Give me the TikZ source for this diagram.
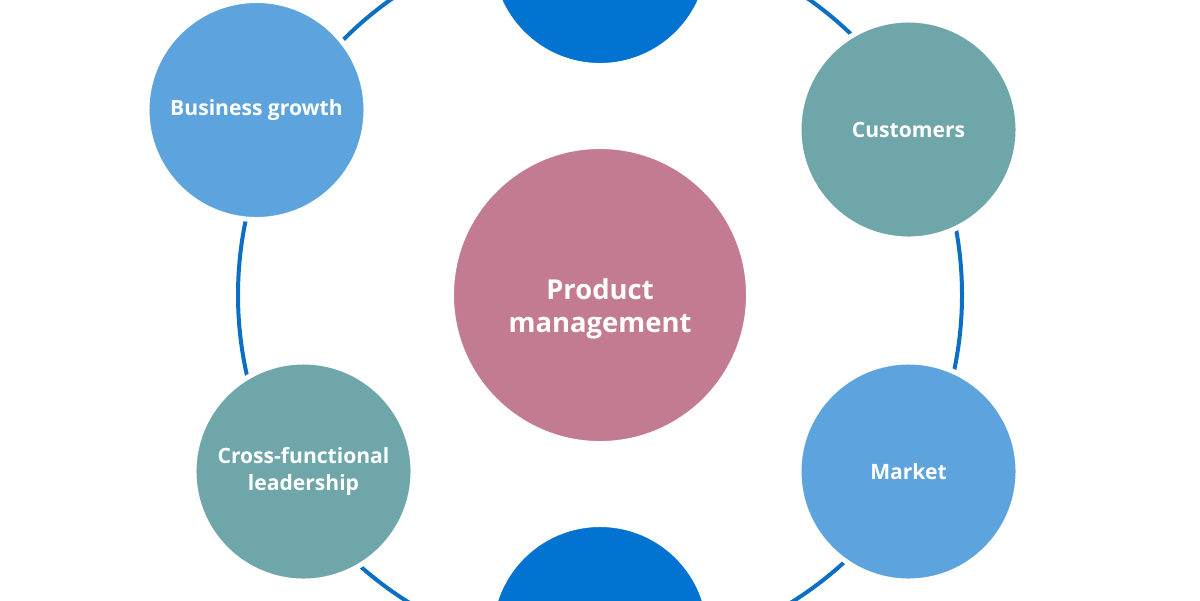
\documentclass[tikz,border=0pt]{standalone}
\usepackage{fontspec}
\setmainfont{Open Sans}
\definecolor{pmpink}{HTML}{C27B90}
\definecolor{lblue}{HTML}{5DA4DF}
\definecolor{tealc}{HTML}{6EA6A9}
\definecolor{dblue}{HTML}{0273D0}
\definecolor{ringblue}{HTML}{0C6FC6}
\begin{document}
\begin{tikzpicture}[x=0.025cm,y=-0.025cm,
  ringline/.style={draw=ringblue,line width=0.1cm},
  bub/.style={circle,draw=white,line width=0.125cm,inner sep=0pt,outer sep=0pt,
    minimum size=5.475cm,text=white,align=center,
    font=\fontsize{15}{19.2}\selectfont\bfseries},
  bigbub/.style={bub,minimum size=7.425cm},
  bigtext/.style={text=white,align=center,inner sep=0pt,
    font=\fontsize{19.5}{23.5}\selectfont\bfseries}]
\useasboundingbox (0,0) rectangle (1200,600);
\clip (0,0) rectangle (1200,600);
\fill[white] (0,0) rectangle (1200,600);
\draw[ringline] (600,295) circle[radius=362];
\node[bub,fill=dblue] (top) at (600,-44) {};
\node[bub,fill=dblue] (bottom) at (600,634) {};
\node[bub,fill=lblue] (growth) at (256.5,110) {Business growth};
\node[bub,fill=tealc] (customers) at (908.5,129.5) {Customers};
\node[bub,fill=tealc] (cross) at (303.5,471.5) {Cross-functional\\leadership};
\node[bub,fill=lblue] (market) at (908.5,471.5) {Market};
\node[bigbub,fill=pmpink] (pm) at (600,295) {};
\node[bigtext] (pmlabel) at (600,309) {Product\\management};
\end{tikzpicture}
\end{document}
